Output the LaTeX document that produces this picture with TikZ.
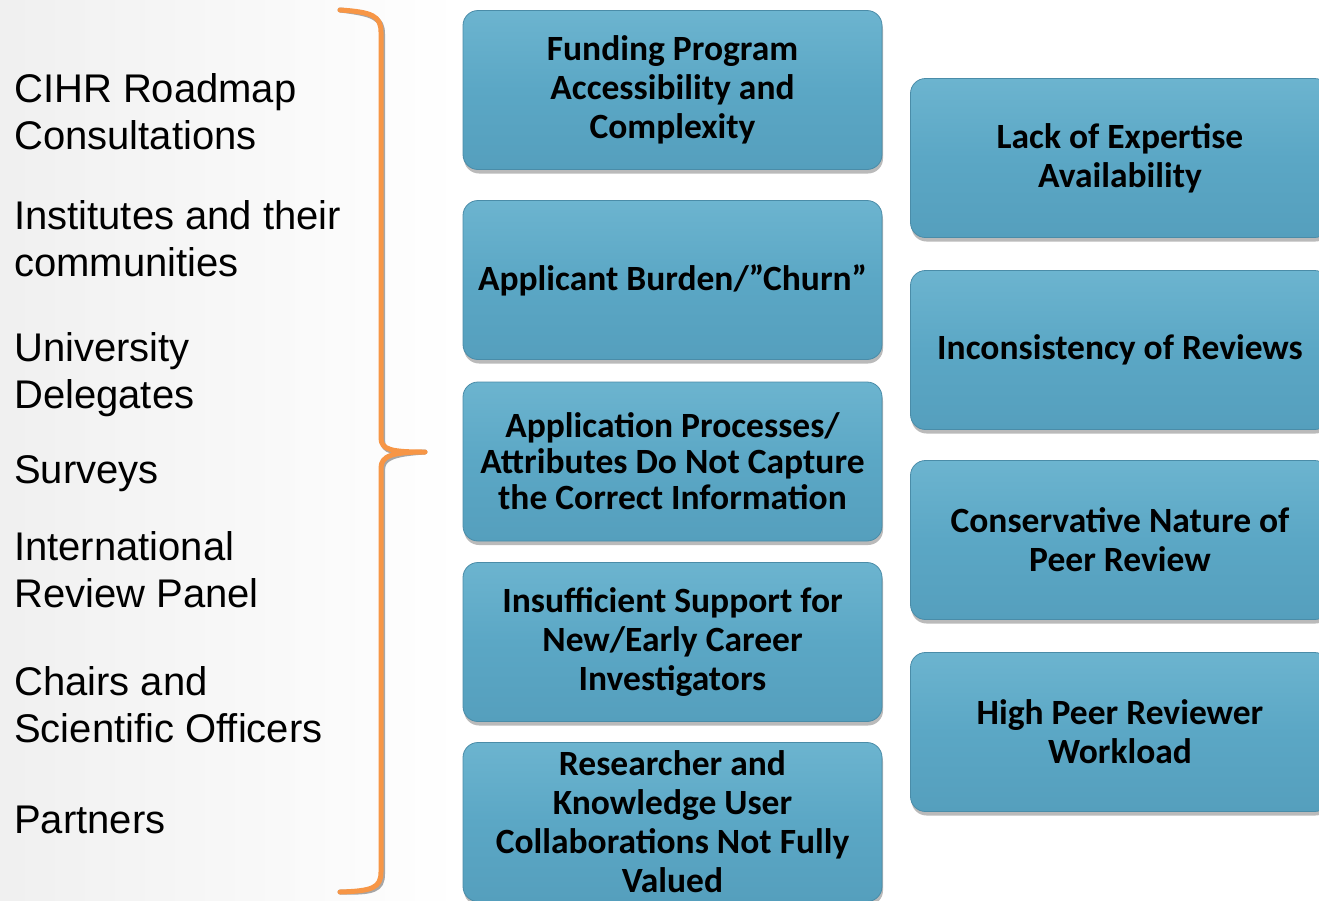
\documentclass[tikz,border=0pt]{standalone}
\usepackage{fontspec}
\setmainfont{Liberation Sans}
\newfontfamily\boxfont{Carlito}
\usetikzlibrary{shadows}
\definecolor{boxmain}{HTML}{5BA7C5}
\definecolor{boxtop}{HTML}{6CB4CF}
\definecolor{boxbot}{HTML}{559FBD}
\definecolor{boxedge}{HTML}{4A8CA8}
\definecolor{braceor}{HTML}{F79646}
\tikzset{
  issue/.style={rounded corners=15pt, minimum width=419pt, minimum height=159pt,
    draw=boxedge, line width=0.8pt, top color=boxtop, bottom color=boxbot, middle color=boxmain,
    drop shadow={shadow xshift=1pt, shadow yshift=-4pt, opacity=0.45, fill=black!60},
    align=center, text=black, inner sep=2pt, font=\boxfont\bfseries\fontsize{35.5}{39}\selectfont},
  source/.style={anchor=base west, align=left, inner sep=0pt, text=black,
    font=\fontsize{40}{47}\selectfont}
}
\begin{document}
\begin{tikzpicture}[x=1pt,y=-1pt]
\useasboundingbox (0,0) rectangle (1319,900);
\clip (0,0) rectangle (1319,900);
% background
\fill[white] (0,0) rectangle (1319,900);
\shade[left color=black!6, right color=white] (0,0) rectangle (460,900);
% sources
\node[source] (s1) at (14,149) {CIHR Roadmap\\Consultations};
\node[source] (s2) at (14,276) {Institutes and their\\communities};
\node[source] (s3) at (14,408) {University\\Delegates};
\node[source] (s4) at (14,483) {Surveys};
\node[source] (s5) at (14,607) {International\\Review Panel};
\node[source] (s6) at (14,742) {Chairs and\\Scientific Officers};
\node[source] (s7) at (14,833) {Partners};
% brace
\coordinate (btop) at (340,10);
\coordinate (btip) at (425,452);
\coordinate (bbot) at (340,892);
\draw[black!35, line width=5pt, line cap=round, line join=round, xshift=1.5pt, yshift=-2pt]
  (btop) .. controls (372,12) and (381,16) .. (381,32) -- (381,438)
  .. controls (381,450) and (392,452) .. (btip)
  .. controls (392,452) and (381,456) .. (381,468) -- (381,872)
  .. controls (381,888) and (372,891) .. (bbot);
\draw[braceor, line width=5pt, line cap=round, line join=round]
  (btop) .. controls (372,12) and (381,16) .. (381,32) -- (381,438)
  .. controls (381,450) and (392,452) .. (btip)
  .. controls (392,452) and (381,456) .. (381,468) -- (381,872)
  .. controls (381,888) and (372,891) .. (bbot);
% left column of issues
\node[issue] (a1) at (672.5,90) {Funding Program\\Accessibility and\\Complexity};
\node[issue] (a2) at (672.5,280) {Applicant Burden/”Churn”};
\node[issue, font=\boxfont\bfseries\fontsize{35.5}{36}\selectfont] (a3) at (672.5,461.5) {Application Processes/\\Attributes Do Not Capture\\the Correct Information};
\node[issue] (a4) at (672.5,642) {Insufficient Support for\\New/Early Career\\Investigators};
\node[issue] (a5) at (672.5,822) {Researcher and\\Knowledge User\\Collaborations Not Fully\\Valued};
% right column of issues
\node[issue] (b1) at (1120,158) {Lack of Expertise\\Availability};
\node[issue] (b2) at (1120,350) {Inconsistency of Reviews};
\node[issue] (b3) at (1120,540) {Conservative Nature of\\Peer Review};
\node[issue] (b4) at (1120,732) {High Peer Reviewer\\Workload};
\end{tikzpicture}
\end{document}
